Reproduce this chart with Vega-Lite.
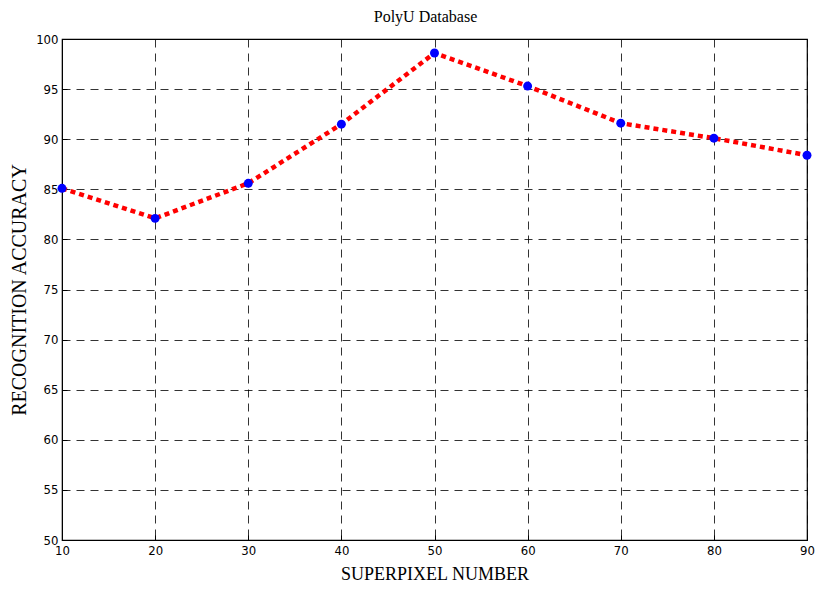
{
  "$schema": "https://vega.github.io/schema/vega-lite/v6.json",
  "width": 745,
  "height": 501,
  "autosize": {"type": "none"},
  "padding": {"left": 62, "top": 39, "right": 8, "bottom": 53},
  "background": "white",
  "title": {"text": "PolyU Database", "font": "Liberation Serif", "fontSize": 16, "fontWeight": "normal", "color": "black", "offset": 8, "dx": -9},
  "config": {"view": {"stroke": "black", "strokeWidth": 1.2}},
  "data": {"values": [
    {"n": 10, "acc": 85.1},
    {"n": 20, "acc": 82.1},
    {"n": 30, "acc": 85.6},
    {"n": 40, "acc": 91.5},
    {"n": 50, "acc": 98.6},
    {"n": 60, "acc": 95.3},
    {"n": 70, "acc": 91.6},
    {"n": 80, "acc": 90.1},
    {"n": 90, "acc": 88.4}
  ]},
  "encoding": {
    "x": {"field": "n", "type": "quantitative", "scale": {"domain": [10, 90], "nice": false, "zero": false},
      "axis": {"values": [10,20,30,40,50,60,70,80,90], "title": "SUPERPIXEL NUMBER", "titleFont": "Liberation Serif", "titleFontSize": 18, "titleFontWeight": "normal", "titleColor": "black", "titlePadding": 8,
        "labelFont": "DejaVu Sans Condensed", "labelFontSize": 13, "labelColor": "black", "labelPadding": 9,
        "grid": true, "gridColor": "black", "gridDash": [8, 6], "gridOpacity": 0.8, "tickSize": -5, "tickColor": "black", "domainColor": "black", "labelFlush": false}},
    "y": {"field": "acc", "type": "quantitative", "scale": {"domain": [50, 100], "nice": false, "zero": false},
      "axis": {"values": [50,55,60,65,70,75,80,85,90,95,100], "title": "RECOGNITION ACCURACY", "titleFont": "Liberation Serif", "titleFontSize": 20, "titleFontWeight": "normal", "titleColor": "black", "titlePadding": 6,
        "labelFont": "DejaVu Sans Condensed", "labelFontSize": 13, "labelColor": "black", "labelPadding": 9,
        "grid": true, "gridColor": "black", "gridDash": [8, 6], "gridOpacity": 0.8, "tickSize": -5, "tickColor": "black", "domainColor": "black"}}
  },
  "layer": [
    {"mark": {"type": "line", "color": "#ff0000", "strokeWidth": 4.5, "strokeDash": [5, 4]}},
    {"mark": {"type": "point", "shape": "circle", "filled": true, "color": "#0000ff", "size": 80, "opacity": 1}}
  ]
}
